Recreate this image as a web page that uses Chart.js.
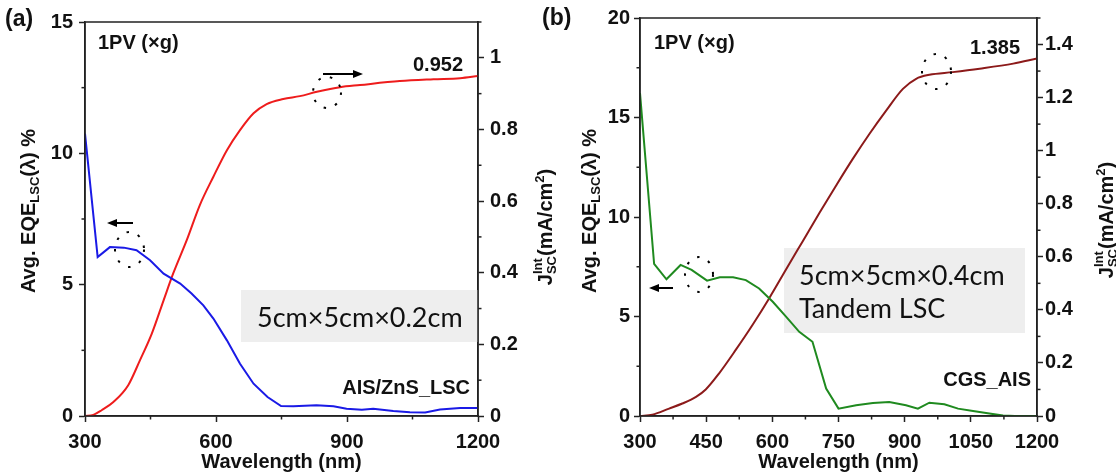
<!DOCTYPE html>
<html>
<head>
<meta charset="utf-8">
<script src="https://cdn.jsdelivr.net/npm/chart.js@4.4.1/dist/chart.umd.min.js"></script>
<style>
  body { margin: 0; background: #fff; }
  #wrap { position: relative; width: 1116px; height: 475px; }
  canvas { position: absolute; top: 0; }
</style>
</head>
<body>
<div id="wrap">
  <canvas id="chartA" width="560" height="475" style="left:0px"></canvas>
  <canvas id="chartB" width="586" height="475" style="left:530px"></canvas>
</div>
<script>
// ---- panel (a): AIS/ZnS LSC, 5cm x 5cm x 0.2cm ----
var wlEqeA = [300, 329, 357, 389, 418, 449, 480, 518, 544, 571, 594, 625, 655, 686, 718, 749, 777, 830, 869, 899, 934, 960, 1006, 1044, 1079, 1113, 1159, 1200];
var eqeA   = [10.75, 6.05, 6.43, 6.41, 6.31, 5.93, 5.42, 5.04, 4.66, 4.21, 3.71, 2.88, 1.99, 1.23, 0.72, 0.38, 0.37, 0.41, 0.37, 0.28, 0.24, 0.28, 0.19, 0.14, 0.13, 0.25, 0.30, 0.30];
var wlJA   = [300, 319, 338, 365, 399, 426, 453, 480, 502, 533, 563, 594, 625, 655, 686, 716, 754, 792, 831, 884, 930, 1021, 1098, 1159, 1200];
var jA     = [0, 0.003, 0.016, 0.039, 0.086, 0.156, 0.23, 0.323, 0.398, 0.491, 0.589, 0.668, 0.742, 0.798, 0.845, 0.871, 0.885, 0.893, 0.905, 0.918, 0.924, 0.935, 0.94, 0.943, 0.949];

// ---- panel (b): CGS_AIS tandem LSC, 5cm x 5cm x 0.4cm ----
var wlEqeB = [300, 332, 360, 392, 417, 452, 481, 511, 540, 570, 601, 631, 661, 691, 722, 750, 790, 828, 865, 903, 930, 956, 990, 1021, 1055, 1092, 1123, 1150, 1200];
var eqeB   = [16.23, 7.64, 6.87, 7.59, 7.34, 6.80, 6.97, 6.97, 6.83, 6.41, 5.74, 4.99, 4.23, 3.73, 1.38, 0.37, 0.54, 0.65, 0.70, 0.54, 0.37, 0.67, 0.59, 0.37, 0.25, 0.12, 0.02, 0, 0];
var wlJB   = [300, 328, 366, 396, 427, 449, 479, 517, 555, 593, 631, 669, 707, 744, 782, 820, 858, 896, 926, 956, 1009, 1070, 1146, 1200];
var jB     = [0, 0.005, 0.028, 0.047, 0.072, 0.1, 0.16, 0.249, 0.343, 0.444, 0.552, 0.659, 0.766, 0.867, 0.968, 1.063, 1.151, 1.233, 1.271, 1.286, 1.296, 1.309, 1.328, 1.347];

// tick labels (other ticks are minor)
var xLabelsA  = [300, 600, 900, 1200];
var xLabelsB  = [300, 450, 600, 750, 900, 1050, 1200];
var eqeLabelsA = [0, 5, 10, 15];
var eqeLabelsB = [0, 5, 10, 15, 20];
var jLabelsA  = [0, 0.2, 0.4, 0.6, 0.8, 1];
var jLabelsB  = [0, 0.2, 0.4, 0.6, 0.8, 1, 1.2, 1.4];

var FAM = '"Liberation Sans", Arial, sans-serif';
var INK = '#111';

function pts(xs, ys) {
  return xs.map(function (x, i) { return { x: x, y: ys[i] }; });
}
function pick(list) {
  return function (v) {
    for (var i = 0; i < list.length; i++) if (Math.abs(list[i] - v) < 1e-6) return String(list[i]);
    return '';
  };
}
function tickCol(c) {
  return (c.tick && c.tick.label !== '') ? '#222' : 'rgba(0,0,0,0)';
}

function axis(pos, min, max, step, labels, pad, size) {
  var o = {
    position: pos, min: min, max: max,
    ticks: { stepSize: step, autoSkip: false, maxRotation: 0, padding: pad, color: INK,
             font: { family: FAM, size: 20, weight: 'bold' }, callback: pick(labels) },
    grid: { drawOnChartArea: false, tickLength: 6, tickWidth: 1.5, tickColor: tickCol },
    border: { color: '#222', width: 1.5 }
  };
  if (pos === 'bottom') { o.type = 'linear'; o.afterFit = function (s) { s.height = size; }; }
  else o.afterFit = function (s) { s.width = size; };
  return o;
}

function txt(ctx, s, x, y, font, align) {
  ctx.font = font; ctx.fillStyle = INK; ctx.textAlign = align || 'left'; ctx.textBaseline = 'middle';
  ctx.fillText(s, x, y);
}
function arrow(ctx, x1, x2, y) {
  var d = x2 > x1 ? 1 : -1;
  ctx.strokeStyle = '#000'; ctx.fillStyle = '#000'; ctx.lineWidth = 2;
  ctx.beginPath(); ctx.moveTo(x1, y); ctx.lineTo(x2 - d * 6, y); ctx.stroke();
  ctx.beginPath(); ctx.moveTo(x2, y); ctx.lineTo(x2 - d * 10, y - 4); ctx.lineTo(x2 - d * 10, y + 4); ctx.closePath(); ctx.fill();
}
function dotted(ctx, cx, cy, rx, ry) {
  ctx.save(); ctx.strokeStyle = '#000'; ctx.lineWidth = 2; ctx.setLineDash([2.5, 9.5]);
  ctx.beginPath(); ctx.ellipse(cx, cy, rx, ry, 0, 0, Math.PI * 2); ctx.stroke(); ctx.restore();
}
// rotated axis title with sub/superscripts
function rich(ctx, parts, cx, cy) {
  var w = 0;
  parts.forEach(function (p) {
    ctx.font = 'bold ' + p.s + 'px ' + FAM;
    if (p.stack) p.w = Math.max(ctx.measureText(p.stack[0]).width, ctx.measureText(p.stack[1]).width);
    else p.w = ctx.measureText(p.t).width;
    w += p.w;
  });
  ctx.save(); ctx.translate(cx, cy); ctx.rotate(-Math.PI / 2);
  ctx.fillStyle = INK; ctx.textAlign = 'left'; ctx.textBaseline = 'alphabetic';
  var x = -w / 2;
  parts.forEach(function (p) {
    ctx.font = 'bold ' + p.s + 'px ' + FAM;
    if (p.stack) { ctx.fillText(p.stack[0], x, -3); ctx.fillText(p.stack[1], x, 11); }
    else ctx.fillText(p.t, x, 7 + (p.dy || 0));
    x += p.w;
  });
  ctx.restore();
}
var eqeTitle = [{ t: 'Avg. EQE', s: 20 }, { t: 'LSC', s: 13, dy: 4 }, { t: '(\u03bb) %', s: 20 }];
var jTitle = [{ t: 'J', s: 20 }, { stack: ['Int', 'SC'], s: 13 }, { t: '(mA/cm', s: 20 }, { t: '2', s: 13, dy: -8 }, { t: ')', s: 20 }];

function frameAndMinor(chart) {
  var ctx = chart.ctx, a = chart.chartArea;
  ctx.save();
  ctx.strokeStyle = '#222'; ctx.lineWidth = 1.5;
  ctx.strokeRect(a.left, a.top, a.right - a.left, a.bottom - a.top);
  Object.keys(chart.scales).forEach(function (id) {
    var s = chart.scales[id];
    s.ticks.forEach(function (t) {
      if (t.label !== '') return;
      var p = s.getPixelForValue(t.value);
      ctx.beginPath();
      if (s.axis === 'x') { ctx.moveTo(p, s.top); ctx.lineTo(p, s.top + 3.5); }
      else if (s.position === 'left') { ctx.moveTo(s.right, p); ctx.lineTo(s.right - 3.5, p); }
      else { ctx.moveTo(s.left, p); ctx.lineTo(s.left + 3.5, p); }
      ctx.stroke();
    });
  });
  ctx.restore();
}

function makeChart(id, cfg) {
  return new Chart(document.getElementById(id), {
    type: 'scatter',
    data: {
      datasets: [
        { data: pts(cfg.wlEqe, cfg.eqe), yAxisID: 'y', showLine: true, borderColor: cfg.c1, borderWidth: 2, pointRadius: 0, tension: 0 },
        { data: pts(cfg.wlJ, cfg.j), yAxisID: 'y1', showLine: true, borderColor: cfg.c2, borderWidth: 2, pointRadius: 0, cubicInterpolationMode: 'monotone' }
      ]
    },
    options: {
      responsive: false, animation: false, devicePixelRatio: 1,
      layout: { padding: { top: cfg.top, left: 0, right: 0, bottom: 0 } },
      plugins: { legend: { display: false }, tooltip: { enabled: false } },
      scales: {
        x: axis('bottom', 300, 1200, cfg.xStep, cfg.xLabels, 8, 59),
        y: axis('left', 0, cfg.eqeMax, 2.5, cfg.eqeLabels, cfg.padL, cfg.wL),
        y1: axis('right', 0, cfg.jMax, 0.1, cfg.jLabels, cfg.padR, cfg.wR)
      }
    },
    plugins: [{
      id: 'deco',
      beforeDatasetsDraw: function (chart) { cfg.under(chart.ctx); },
      afterDraw: function (chart) {
        var ctx = chart.ctx, a = chart.chartArea;
        frameAndMinor(chart);
        txt(ctx, 'Wavelength (nm)', (a.left + a.right) / 2, 462, 'bold 20px ' + FAM, 'center');
        rich(ctx, eqeTitle, cfg.tL[0], cfg.tL[1]);
        rich(ctx, jTitle, cfg.tR[0], cfg.tR[1]);
        cfg.over(ctx);
      }
    }]
  });
}

var B20 = 'bold 20px ' + FAM;
var BOX = '27px Lato, "Open Sans", sans-serif';

makeChart('chartA', {
  wlEqe: wlEqeA, eqe: eqeA, wlJ: wlJA, j: jA, c1: '#1a1ae6', c2: '#ee1c1c',
  top: 22, xStep: 150, xLabels: xLabelsA,
  eqeMax: 15, eqeLabels: eqeLabelsA, jMax: 1.1, jLabels: jLabelsA,
  padL: 6, padR: 6, wL: 85, wR: 82,
  tL: [27.5, 211], tR: [545, 227],
  under: function (ctx) {
    ctx.fillStyle = '#eeeeee'; ctx.fillRect(241, 290, 237, 52);
    txt(ctx, '5cm\u00d75cm\u00d70.2cm', 257, 318, BOX);
  },
  over: function (ctx) {
    txt(ctx, '(a)', 5, 20, 'bold 23px ' + FAM);
    txt(ctx, '1PV (\u00d7g)', 98, 43, B20);
    txt(ctx, '0.952', 463, 65, B20, 'right');
    txt(ctx, 'AIS/ZnS_LSC', 470, 388, B20, 'right');
    arrow(ctx, 323, 363, 74);
    arrow(ctx, 133, 107, 223);
    dotted(ctx, 327, 92.5, 14, 15.5);
    dotted(ctx, 129.5, 249.5, 14.5, 17.5);
  }
});

makeChart('chartB', {
  wlEqe: wlEqeB, eqe: eqeB, wlJ: wlJB, j: jB, c1: '#1f8a1f', c2: '#8c1a1a',
  top: 18, xStep: 75, xLabels: xLabelsB,
  eqeMax: 20, eqeLabels: eqeLabelsB, jMax: 1.5, jLabels: jLabelsB,
  padL: 4, padR: 2, wL: 110, wR: 79,
  tL: [59, 211], tR: [576, 220],
  under: function (ctx) {
    ctx.fillStyle = '#eeeeee'; ctx.fillRect(254, 248, 241, 85);
    txt(ctx, '5cm\u00d75cm\u00d70.4cm', 269, 276, BOX);
    txt(ctx, 'Tandem LSC', 269, 309, BOX);
  },
  over: function (ctx) {
    txt(ctx, '(b)', 12, 19, 'bold 23px ' + FAM);
    txt(ctx, '1PV (\u00d7g)', 124, 43, B20);
    txt(ctx, '1.385', 490, 48, B20, 'right');
    txt(ctx, 'CGS_AIS', 501, 380, B20, 'right');
    arrow(ctx, 143, 119, 288);
    dotted(ctx, 406.5, 71.5, 14.5, 17.5);
    dotted(ctx, 169, 274.5, 14, 17.5);
  }
});
</script>
</body>
</html>
